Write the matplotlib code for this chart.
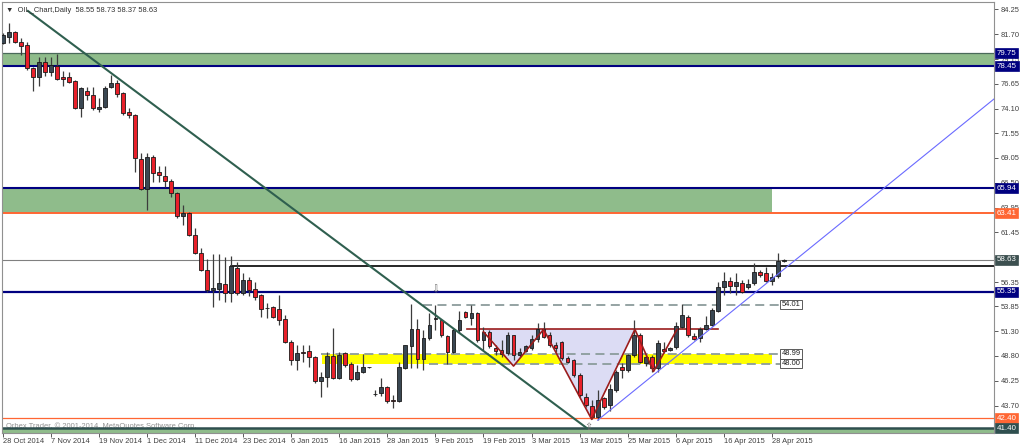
import numpy as np
import matplotlib
matplotlib.use("Agg")
import matplotlib.pyplot as plt
from matplotlib.transforms import blended_transform_factory

plt.rcParams['font.family'] = ['Liberation Sans', 'DejaVu Sans']

# daily OHLC, one entry per trading bar (28 Oct 2014 .. 30 Apr 2015)
opens = [80.80, 81.42, 81.93, 80.90, 80.60, 78.24, 77.32, 78.86, 77.83, 78.45,
         77.32, 77.32, 76.91, 74.15, 75.89, 75.48, 74.05, 74.26, 76.30, 76.71,
         75.69, 73.74, 73.44, 68.94, 65.87, 69.14, 67.61, 67.20, 66.69, 65.46,
         63.10, 63.41, 61.16, 59.32, 57.58, 55.55, 55.64, 56.15, 55.23, 57.79,
         55.23, 56.56, 55.64, 55.02, 53.72, 53.79, 53.59, 52.56, 50.20, 48.36,
         49.18, 49.28, 48.67, 46.20, 46.62, 48.77, 46.51, 49.08, 47.95, 46.41,
         47.13, 47.64, 44.87, 45.00, 45.59, 44.26, 44.15, 47.54, 49.79, 51.54,
         48.46, 50.62, 52.60, 52.46, 50.82, 49.18, 51.44, 53.28, 52.67, 53.18,
         50.41, 51.23, 49.59, 49.38, 49.08, 50.92, 48.87, 49.28, 49.59, 50.51,
         51.54, 50.92, 49.90, 50.20, 48.56, 48.36, 46.82, 44.56, 43.64, 42.50,
         44.46, 43.74, 45.28, 47.64, 47.33, 48.87, 50.92, 48.05, 48.67, 47.54,
         49.49, 49.40, 49.69, 51.74, 52.77, 50.82, 50.62, 51.54, 51.95, 53.38,
         55.84, 56.46, 55.94, 56.25, 55.84, 56.25, 57.38, 57.27, 56.46, 56.97,
         58.55]
highs = [81.83, 82.85, 82.03, 81.31, 80.90, 78.34, 79.37, 79.37, 79.37, 79.68,
         77.93, 77.83, 77.00, 76.30, 76.30, 76.30, 75.20, 76.40, 77.53, 77.00,
         75.79, 74.15, 73.54, 69.55, 69.55, 69.35, 68.22, 68.22, 66.89, 65.56,
         64.23, 63.51, 61.88, 59.80, 58.70, 59.22, 59.22, 58.91, 59.01, 58.40,
         57.27, 56.87, 56.35, 55.12, 54.20, 53.90, 55.02, 52.97, 50.41, 49.90,
         49.90, 49.90, 48.77, 47.13, 49.18, 51.64, 49.18, 49.18, 48.15, 47.85,
         48.97, 47.70, 45.28, 46.51, 45.69, 44.77, 48.15, 49.90, 54.10, 52.56,
         51.44, 53.20, 54.00, 52.56, 50.92, 51.64, 53.38, 53.38, 54.00, 53.28,
         51.74, 51.44, 49.90, 50.41, 51.23, 50.92, 49.59, 49.90, 50.92, 52.15,
         52.26, 51.23, 50.20, 50.30, 48.77, 48.46, 47.03, 44.97, 44.26, 45.28,
         44.56, 45.89, 47.33, 48.05, 48.97, 52.46, 51.13, 48.87, 48.87, 50.41,
         50.20, 49.69, 52.26, 54.10, 52.97, 51.13, 51.74, 52.87, 53.69, 56.35,
         57.38, 56.87, 57.27, 56.56, 56.66, 58.29, 57.58, 57.89, 57.27, 59.32,
         58.73]
lows = [80.70, 80.80, 80.80, 79.57, 78.04, 75.89, 76.40, 77.43, 77.43, 77.00,
        76.40, 76.71, 74.05, 73.23, 75.00, 73.95, 73.74, 74.15, 76.20, 75.28,
        73.44, 73.13, 67.61, 65.77, 63.72, 66.58, 66.58, 66.07, 65.05, 62.95,
        62.18, 61.06, 59.22, 57.48, 55.33, 53.79, 54.51, 54.31, 54.31, 55.02,
        55.02, 54.92, 54.51, 52.77, 52.67, 52.67, 51.95, 50.10, 47.85, 47.33,
        48.15, 47.64, 46.00, 44.56, 45.59, 46.41, 46.41, 47.64, 46.20, 46.31,
        47.03, 47.60, 44.67, 44.67, 43.95, 43.44, 44.05, 47.44, 47.54, 47.54,
        47.33, 50.41, 51.44, 50.72, 47.95, 49.08, 51.13, 52.67, 51.95, 50.20,
        49.38, 49.59, 48.87, 48.67, 48.87, 48.36, 48.67, 49.18, 49.38, 50.20,
        50.62, 49.69, 49.18, 48.36, 48.05, 46.62, 44.56, 43.54, 42.31, 42.21,
        43.33, 43.13, 45.08, 46.51, 47.13, 48.67, 48.05, 47.74, 47.13, 47.13,
        49.08, 49.28, 49.49, 51.64, 50.72, 50.41, 50.20, 51.44, 51.84, 53.28,
        55.02, 55.23, 55.02, 55.23, 55.64, 56.05, 56.87, 56.35, 56.05, 56.76,
        58.37]
closes = [81.62, 81.93, 80.90, 80.50, 78.24, 77.32, 78.86, 77.83, 78.55, 77.12,
          77.12, 76.81, 74.15, 76.20, 75.48, 74.15, 74.26, 76.20, 76.71, 75.59,
          73.64, 73.44, 69.04, 65.87, 69.14, 67.51, 67.30, 66.69, 65.46, 63.10,
          63.41, 61.16, 59.32, 57.58, 55.53, 55.74, 56.25, 55.23, 57.99, 55.23,
          56.56, 55.53, 54.82, 53.59, 53.66, 52.77, 52.46, 50.20, 48.36, 49.08,
          49.08, 48.67, 46.20, 46.62, 48.77, 46.51, 48.87, 47.85, 46.41, 47.13,
          47.64, 47.66, 44.90, 45.59, 44.15, 44.20, 47.64, 49.90, 51.54, 48.46,
          50.62, 51.95, 52.70, 50.92, 49.18, 51.44, 52.46, 52.77, 53.18, 50.41,
          51.23, 49.79, 49.28, 48.97, 50.92, 48.87, 49.18, 49.79, 50.51, 51.54,
          50.72, 49.90, 49.59, 48.56, 48.15, 46.82, 44.77, 43.74, 42.50, 44.26,
          43.54, 45.38, 47.13, 47.33, 48.87, 50.92, 48.15, 48.67, 47.54, 50.10,
          49.28, 49.59, 51.84, 52.97, 50.92, 50.51, 51.54, 51.95, 53.49, 55.84,
          56.46, 55.94, 56.35, 55.33, 56.15, 57.38, 57.07, 56.46, 56.87, 58.55,
          58.63]

date_labels = ["28 Oct 2014", "7 Nov 2014", "19 Nov 2014", "1 Dec 2014", "11 Dec 2014",
               "23 Dec 2014", "6 Jan 2015", "16 Jan 2015", "28 Jan 2015", "9 Feb 2015",
               "19 Feb 2015", "3 Mar 2015", "13 Mar 2015", "25 Mar 2015", "6 Apr 2015",
               "16 Apr 2015", "28 Apr 2015"]
price_ticks = [84.25, 81.70, 79.15, 76.65, 74.10, 71.55, 69.05, 66.50, 63.95,
               61.45, 58.90, 56.35, 53.85, 51.30, 48.80, 46.25, 43.70]

# drawn objects (bar index, price)
downtrend_x = [4.2, 97.2]
downtrend_y = [84.08, 41.40]
uptrend_x = [99, 166]
uptrend_y = [42.21, 75.6]
hs_x = [80, 85, 90, 98, 105.2, 108.3, 112.2]
hs_y = [51.26, 47.75, 51.5, 42.3, 51.5, 47.2, 51.5]
neckline = 51.54
resistance = 57.98

NAVY = "#000080"
ORANGE = "#ff6633"
SLATE = "#2f4f4f"
GREEN = "#8fbc8b"
FS = 5.4

fig = plt.figure(figsize=(10.24, 4.47), dpi=100)
ax = fig.add_axes([2 / 1024, 14 / 447, 992 / 1024, 431 / 447])
ax.set_xlim(-0.12, 164.95)
ax.set_ylim(40.90, 85.0)

x = np.arange(len(opens))
o = np.array(opens); h = np.array(highs); l = np.array(lows); c = np.array(closes)

# zones
ax.axhspan(78.45, 79.75, color=GREEN, zorder=1, lw=0)
ax.fill_between([-1, 128], 63.41, 65.94, color=GREEN, zorder=1, lw=0)
ax.fill_between([53.1, 128], 48.00, 48.99, color="#ffff00", zorder=1, lw=0)
ax.axhspan(40.0, 41.40, color=GREEN, zorder=1, lw=0)

# pattern shading
ax.fill(hs_x[:3], [neckline, hs_y[1], neckline], color="#dcdcf4", zorder=1, lw=0)
ax.fill(hs_x[2:5], [neckline, hs_y[3], neckline], color="#dcdcf4", zorder=1, lw=0)

# horizontal levels
ax.axhline(79.75, color="#4a6a5a", lw=0.9, zorder=2)
ax.axhline(78.45, color=NAVY, lw=1.5, zorder=2)
ax.axhline(65.94, color=NAVY, lw=1.5, zorder=2)
ax.axhline(63.41, color=ORANGE, lw=1.4, zorder=2)
ax.axhline(58.63, color="#808080", lw=0.8, zorder=2)
ax.plot([38, 170], [resistance, resistance], color="black", lw=1.2, zorder=2)
ax.axhline(55.35, color=NAVY, lw=1.6, zorder=2)
ax.axhline(42.40, color=ORANGE, lw=0.9, zorder=2)
ax.axhline(41.40, color=SLATE, lw=1.8, zorder=2)

dash = dict(color="#8c9c9c", lw=1.3, ls=(0, (5, 3)), zorder=2)
ax.plot([70, 129.4], [54.01, 54.01], **dash)
ax.plot([53, 129.4], [48.99, 48.99], **dash)
ax.plot([71, 129.4], [48.00, 48.00], **dash)

# trendlines and pattern
ax.plot(downtrend_x, downtrend_y, color="#2f5f4f", lw=1.5, zorder=6)
ax.plot(uptrend_x, uptrend_y, color="#6a6aff", lw=0.8, zorder=6)
ax.plot([77.3, 119], [neckline, neckline], color="#9b1c1c", lw=1.2, zorder=3)
ax.plot(hs_x, hs_y, color="#9b1c1c", lw=1.2, zorder=6)

# candles
ax.vlines(x, l, h, color="#3c3c3c", lw=0.9, zorder=4)
bottoms = np.minimum(o, c)
heights = np.maximum(np.abs(c - o), 0.06)
colors = np.where(c >= o, "#3a4752", "#e8202a")
ax.bar(x, heights, 0.62, bottom=bottoms, color=colors, edgecolor="#1a1a1a",
       lw=0.6, zorder=5)

# markers
ax.text(72, 55.55, "\u21e9", fontsize=7, color="#707070", ha="center", va="center",
        zorder=7, family="DejaVu Sans")
ax.text(97.5, 41.5, "\u21e7", fontsize=7, color="#707070", ha="center", va="center",
        zorder=7, family="DejaVu Sans")

# in-chart labels
for val in [54.01, 48.99, 48.00]:
    ax.text(129.6, val, f"{val:.2f}", fontsize=FS, color="#202020", ha="left", va="center",
            zorder=7, bbox=dict(boxstyle="square,pad=0.15", fc="white", ec="#404040", lw=0.6))

# axes styling
ax.yaxis.tick_right()
ax.set_yticks(price_ticks)
ax.set_yticklabels([f"{p:.2f}" for p in price_ticks])
ax.set_xticks(np.arange(0, 129, 8))
ax.set_xticklabels(date_labels, ha="left")
ax.tick_params(axis="y", direction="out", length=3, pad=2, labelsize=FS,
               colors="#404040", width=0.6)
ax.tick_params(axis="x", direction="out", length=3, pad=0.5, labelsize=FS,
               colors="#404040", width=0.6)
for s in ax.spines.values():
    s.set_color("#909090")
    s.set_linewidth(0.8)

# price boxes on the right scale
tr = blended_transform_factory(ax.transAxes, ax.transData)
boxes = [(79.75, NAVY), (78.45, NAVY), (65.94, NAVY), (63.41, ORANGE),
         (58.63, "#3c5050"), (55.35, NAVY), (42.40, ORANGE), (41.40, SLATE)]
for val, col in boxes:
    ax.text(1.003, val, f"{val:.2f}", transform=tr, fontsize=FS + 0.3, color="white",
            ha="left", va="center", zorder=8, clip_on=False,
            bbox=dict(boxstyle="square,pad=0.2", fc=col, ec=col, lw=0.5))

ax.text(4 / 992, 1 - 8 / 431, "\u25bc  OIL_Chart,Daily  58.55 58.73 58.37 58.63",
        transform=ax.transAxes, fontsize=FS, color="#303030", va="center", zorder=8)
ax.text(0.55, 41.6, "Orbex Trader, \u00a9 2001-2014, MetaQuotes Software Corp.",
        fontsize=FS, color="#909090", va="center", zorder=1.5)

fig.savefig("out.png", dpi=100)
